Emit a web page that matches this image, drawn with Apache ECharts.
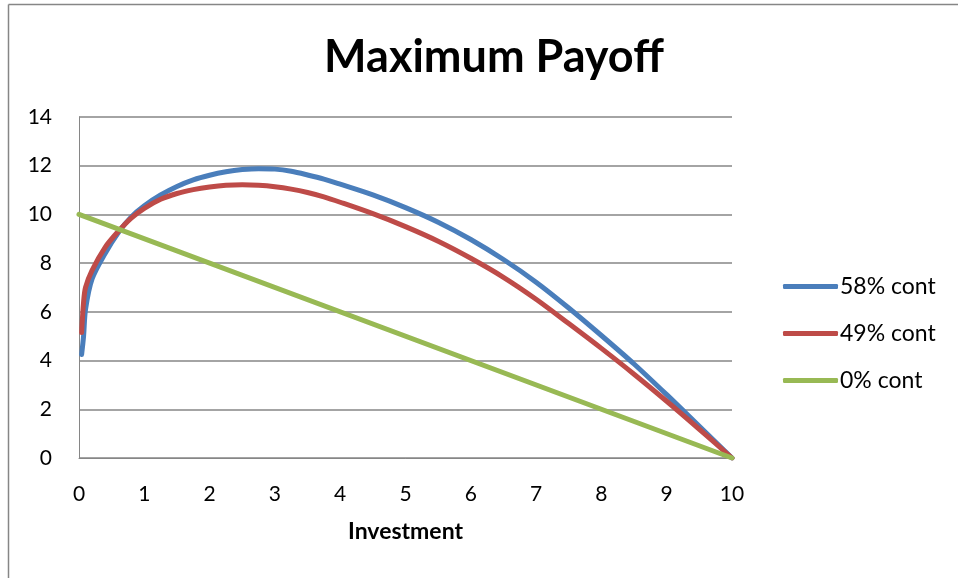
<!DOCTYPE html>
<html>
<head>
<meta charset="utf-8">
<title>Maximum Payoff</title>
<script src="https://cdn.jsdelivr.net/npm/echarts@6/dist/echarts.min.js"></script>
<style>
  html, body { margin: 0; padding: 0; background: #fff; }
  #chart { width: 958px; height: 578px; }
</style>
</head>
<body>
<div id="chart"></div>
<script>
// Investment levels (x) at which each payoff curve is sampled
const investment = [0.04, 0.07, 0.1, 0.2, 0.4, 0.6, 0.8, 1.0, 1.25, 1.5, 1.75, 2.0, 2.25, 2.5, 2.75,
  3.0, 3.25, 3.5, 3.75, 4.0, 4.5, 5.0, 5.5, 6.0, 6.5, 7.0, 7.5, 8.0, 8.5, 9.0, 9.5, 10];

// Maximum payoff for each contribution level
const payoff58 = [4.25, 5.0, 6.1, 7.35, 8.4, 9.25, 9.9, 10.36, 10.8, 11.15, 11.42, 11.61, 11.75, 11.84, 11.88,
  11.86, 11.77, 11.62, 11.45, 11.24, 10.8, 10.28, 9.68, 8.97, 8.15, 7.22, 6.16, 5.03, 3.86, 2.6, 1.3, 0];
const payoff49 = [5.15, 6.4, 7.0, 7.7, 8.65, 9.3, 9.85, 10.25, 10.62, 10.86, 11.02, 11.13, 11.2, 11.22, 11.2,
  11.14, 11.04, 10.9, 10.72, 10.5, 10.03, 9.5, 8.9, 8.2, 7.42, 6.52, 5.52, 4.5, 3.44, 2.33, 1.18, 0];
const investment0 = [0, 10];
const payoff0 = [10, 0];

const seriesNames = ['58% cont', '49% cont', '0% cont'];
const xTicks = [0, 1, 2, 3, 4, 5, 6, 7, 8, 9, 10];
const yTicks = [0, 2, 4, 6, 8, 10, 12, 14];

const pairs = (xs, ys) => xs.map((x, i) => [x, ys[i]]);

const FONT = 'Lato, "Open Sans", sans-serif';
const colors = ['#4A7EBB', '#BE4B48', '#98B954'];

const chart = echarts.init(document.getElementById('chart'), null, { renderer: 'canvas' });

chart.setOption({
  backgroundColor: '#ffffff',
  animation: false,
  color: colors,
  title: {
    text: 'Maximum Payoff',
    left: 489,
    top: 30,
    textAlign: 'center',
    textStyle: { fontFamily: FONT, fontSize: 45, fontWeight: 'bold', color: '#000' }
  },
  legend: {
    orient: 'vertical',
    left: 783,
    top: 275,
    itemGap: 24,
    itemWidth: 55,
    itemHeight: 5,
    icon: 'roundRect',
    padding: 0,
    data: seriesNames,
    textStyle: { fontFamily: FONT, fontSize: 23, color: '#000', padding: [0, 0, 0, -3] }
  },
  grid: { left: 79, right: 226, top: 117, bottom: 120, containLabel: false },
  xAxis: {
    type: 'value',
    min: xTicks[0],
    max: xTicks[xTicks.length - 1],
    interval: 1,
    name: 'Investment',
    nameLocation: 'middle',
    nameGap: 62,
    nameTextStyle: { fontFamily: FONT, fontSize: 23, fontWeight: 'bold', color: '#000' },
    axisLine: { show: true, onZero: false, lineStyle: { color: '#868686', width: 1 } },
    axisTick: { show: false },
    splitLine: { show: false },
    axisLabel: { fontFamily: FONT, fontSize: 21, color: '#000', margin: 26 }
  },
  yAxis: {
    type: 'value',
    min: yTicks[0],
    max: yTicks[yTicks.length - 1],
    interval: 2,
    axisLine: { show: true, lineStyle: { color: '#868686', width: 1 } },
    axisTick: { show: false },
    splitLine: { show: true, lineStyle: { color: '#868686', width: 1.5 } },
    axisLabel: { fontFamily: FONT, fontSize: 21, color: '#000', margin: 27, align: 'right' }
  },
  graphic: [
    { type: 'line', shape: { x1: 8.5, y1: 4.5, x2: 8.5, y2: 578 }, style: { stroke: '#868686', lineWidth: 1.5 } },
    { type: 'line', shape: { x1: 8.5, y1: 4.5, x2: 958, y2: 4.5 }, style: { stroke: '#868686', lineWidth: 1.5 } }
  ],
  series: [
    {
      name: seriesNames[0], type: 'line', data: pairs(investment, payoff58),
      showSymbol: false, smooth: 0.3,
      lineStyle: { width: 5, cap: 'round', join: 'round' }
    },
    {
      name: seriesNames[1], type: 'line', data: pairs(investment, payoff49),
      showSymbol: false, smooth: 0.3,
      lineStyle: { width: 5, cap: 'round', join: 'round' }
    },
    {
      name: seriesNames[2], type: 'line', data: pairs(investment0, payoff0),
      showSymbol: false,
      lineStyle: { width: 5, cap: 'round' }
    }
  ]
});
</script>
</body>
</html>
